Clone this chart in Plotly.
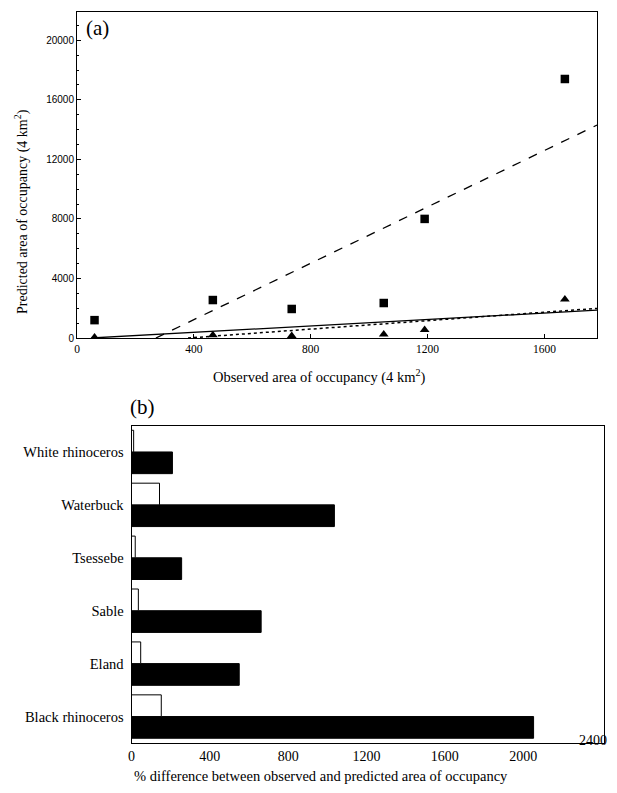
import plotly.graph_objects as go

# ---- Panel (a) data ----
obs_sq = [60, 465, 735, 1050, 1190, 1670]
pred_sq = [1200, 2550, 1950, 2350, 8000, 17400]
obs_tri = [60, 465, 735, 1050, 1190, 1670]
pred_tri = [50, 200, 150, 250, 550, 2600]
dash_x = [270, 1780]
dash_y = [0, 14300]
solid_x = [50, 1780]
solid_y = [0, 1870]
dot_x = [380, 1780]
dot_y = [0, 1990]
a_xticks = [0, 400, 800, 1200, 1600]
a_yticks = [0, 4000, 8000, 12000, 16000, 20000]

# ---- Panel (b) data ----
species = ["Black rhinoceros", "Eland", "Sable", "Tsessebe", "Waterbuck", "White rhinoceros"]
diff_black = [2053, 550, 662, 256, 1036, 209]
diff_white = [152, 47, 35, 19, 143, 11]
b_xticks = [0, 400, 800, 1200, 1600, 2000]
b_last_tick = 2400

# page body has an 8px margin, so the figure is drawn offset by 8px
OFF = 8
W, H = 617 - 2 * OFF, 793 - 2 * OFF
def px(x):
    return (x - OFF) / W
def py(y):
    return 1 - (y - OFF) / H

SERIF = "Liberation Serif"
SANS = "Liberation Sans"

fig = go.Figure()

# panel (a)
fig.add_trace(go.Scatter(x=dash_x, y=dash_y, mode="lines", line=dict(color="black", width=1.3, dash="dash"),
                         xaxis="x", yaxis="y", showlegend=False))
fig.add_trace(go.Scatter(x=solid_x, y=solid_y, mode="lines", line=dict(color="black", width=1.3),
                         xaxis="x", yaxis="y", showlegend=False))
fig.add_trace(go.Scatter(x=dot_x, y=dot_y, mode="lines", line=dict(color="black", width=1.5, dash="dot"),
                         xaxis="x", yaxis="y", showlegend=False))
fig.add_trace(go.Scatter(x=obs_sq, y=pred_sq, mode="markers", marker=dict(symbol="square", size=8.5, color="black"),
                         xaxis="x", yaxis="y", showlegend=False))
fig.add_trace(go.Scatter(x=obs_tri, y=pred_tri, mode="markers", marker=dict(symbol="triangle-up", size=8.5, color="black"),
                         xaxis="x", yaxis="y", showlegend=False))

# panel (b)
fig.add_trace(go.Bar(y=species, x=diff_black, orientation="h", marker=dict(color="black", line=dict(color="black", width=1)),
                     xaxis="x2", yaxis="y2", showlegend=False))
fig.add_trace(go.Bar(y=species, x=diff_white, orientation="h", marker=dict(color="white", line=dict(color="black", width=1)),
                     xaxis="x2", yaxis="y2", showlegend=False))

axis_common = dict(showline=True, linecolor="black", linewidth=1, mirror=True, showgrid=False,
                   zeroline=False, automargin=False)

fig.update_layout(
    width=W, height=H,
    margin=dict(l=0, r=0, t=0, b=0),
    paper_bgcolor="white", plot_bgcolor="white",
    barmode="group", bargap=0.18, bargroupgap=0,
    xaxis=dict(domain=[px(77), px(597)], anchor="y", range=[0, 1780],
               tickvals=a_xticks, tickformat="d", ticks="inside", ticklen=4, tickcolor="black",
               tickfont=dict(family=SERIF, size=11.5, color="black"), **axis_common),
    yaxis=dict(domain=[py(338), py(12)], anchor="x", range=[0, 21900],
               tickvals=a_yticks, tickformat="d", ticks="inside", ticklen=4, tickcolor="black",
               minor=dict(ticks="inside", dtick=1000, ticklen=2, tickcolor="black"),
               tickfont=dict(family=SANS, size=10, color="black"), **axis_common),
    xaxis2=dict(domain=[px(131.5), px(603.5)], anchor="y2", range=[0, 2410],
                tickvals=b_xticks, tickformat="d", ticks="",
                tickfont=dict(family=SERIF, size=14, color="black"), **axis_common),
    yaxis2=dict(domain=[py(743), py(425.5)], anchor="x2", type="category",
                categoryorder="array", categoryarray=species, ticks="", ticklabelstandoff=4,
                tickfont=dict(family=SERIF, size=14.5, color="black"), **axis_common),
    annotations=[
        dict(text="(a)", x=px(97), y=py(28), xref="paper", yref="paper", showarrow=False,
             font=dict(family=SERIF, size=21, color="black"), xanchor="center", yanchor="middle"),
        dict(text="(b)", x=px(142), y=py(407), xref="paper", yref="paper", showarrow=False,
             font=dict(family=SERIF, size=21, color="black"), xanchor="center", yanchor="middle"),
        dict(text=str(b_last_tick), x=1, y=py(740), xref="paper", yref="paper", showarrow=False,
             font=dict(family=SERIF, size=14, color="black"), xanchor="right", yanchor="middle"),
        dict(text="Observed area of occupancy (4 km<sup>2</sup>)", x=px(319), y=py(377), xref="paper", yref="paper",
             showarrow=False, font=dict(family=SERIF, size=14.5, color="black"), xanchor="center", yanchor="middle"),
        dict(text="Predicted area of occupancy (4 km<sup>2</sup>)", x=px(22), y=py(212), xref="paper", yref="paper",
             showarrow=False, textangle=-90, font=dict(family=SERIF, size=14, color="black"),
             xanchor="center", yanchor="middle"),
        dict(text="% difference between observed and predicted area of occupancy", x=px(321), y=py(776),
             xref="paper", yref="paper", showarrow=False, font=dict(family=SERIF, size=14.5, color="black"),
             xanchor="center", yanchor="middle"),
    ],
)

fig.write_html("out.html")
